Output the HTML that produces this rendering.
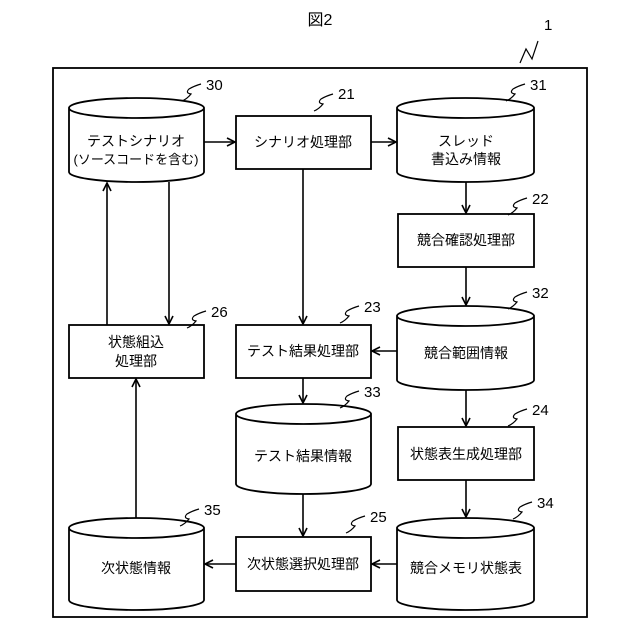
<!DOCTYPE html>
<html><head><meta charset="utf-8"><style>
html,body{margin:0;padding:0;background:#fff}
svg{display:block}
text{font-family:"Liberation Sans","Noto Sans CJK JP",sans-serif;fill:#000}
.t{font-size:14px;text-anchor:middle}
.n{font-size:15px}
</style></head><body>
<svg width="640" height="640" viewBox="0 0 640 640" xmlns="http://www.w3.org/2000/svg">
<defs>
<marker id="a" markerWidth="10" markerHeight="10" refX="9" refY="5" orient="auto" markerUnits="userSpaceOnUse">
<polyline points="1,1 9,5 1,9" fill="none" stroke="#000" stroke-width="1.6"/>
</marker>
<g id="sq"><path d="M0,0 q5,-2 9,-7 q-6,-1 -2,-5 q5,-3 12,-5" fill="none" stroke="#000" stroke-width="1.2"/></g>
</defs>
<g fill="none" stroke="#000" stroke-width="1.8">
<rect x="53" y="68" width="534" height="549"/>
<path d="M69,108 v64 a67.5,10 0 0 0 135,0 v-64 a67.5,10 0 0 0 -135,0 a67.5,10 0 0 0 135,0"/>
<path d="M397,108 v64 a68.5,10 0 0 0 137,0 v-64 a68.5,10 0 0 0 -137,0 a68.5,10 0 0 0 137,0"/>
<path d="M397,316 v64 a68.5,10 0 0 0 137,0 v-64 a68.5,10 0 0 0 -137,0 a68.5,10 0 0 0 137,0"/>
<path d="M236,414 v70 a67.5,10 0 0 0 135,0 v-70 a67.5,10 0 0 0 -135,0 a67.5,10 0 0 0 135,0"/>
<path d="M397,528 v72 a68.5,10 0 0 0 137,0 v-72 a68.5,10 0 0 0 -137,0 a68.5,10 0 0 0 137,0"/>
<path d="M69,528 v72 a67.5,10 0 0 0 135,0 v-72 a67.5,10 0 0 0 -135,0 a67.5,10 0 0 0 135,0"/>
<rect x="236" y="116" width="135" height="53"/>
<rect x="398" y="214" width="136" height="53"/>
<rect x="69" y="325" width="135" height="53"/>
<rect x="236" y="325" width="135" height="53"/>
<rect x="398" y="427" width="136" height="53"/>
<rect x="236" y="537" width="135" height="54"/>
</g>
<g stroke="#000" stroke-width="1.6" fill="none" marker-end="url(#a)">
<line x1="204" y1="142" x2="235" y2="142"/>
<line x1="371" y1="142" x2="396" y2="142"/>
<line x1="303" y1="169" x2="303" y2="324"/>
<line x1="466" y1="182" x2="466" y2="213"/>
<line x1="466" y1="267" x2="466" y2="305"/>
<line x1="397" y1="351" x2="372" y2="351"/>
<line x1="303" y1="378" x2="303" y2="403"/>
<line x1="303" y1="494" x2="303" y2="536"/>
<line x1="466" y1="390" x2="466" y2="426"/>
<line x1="466" y1="480" x2="466" y2="517"/>
<line x1="397" y1="564" x2="372" y2="564"/>
<line x1="236" y1="564" x2="205" y2="564"/>
<line x1="136" y1="518" x2="136" y2="379"/>
<line x1="107" y1="325" x2="107" y2="183"/>
<line x1="169" y1="182" x2="169" y2="324"/>
</g>
<use href="#sq" x="182" y="101"/>
<use href="#sq" x="314" y="111"/>
<use href="#sq" x="506" y="101"/>
<use href="#sq" x="508" y="215"/>
<use href="#sq" x="508" y="309"/>
<use href="#sq" x="340" y="323"/>
<use href="#sq" x="187" y="328"/>
<use href="#sq" x="340" y="408"/>
<use href="#sq" x="508" y="426"/>
<use href="#sq" x="513" y="519"/>
<use href="#sq" x="180" y="526"/>
<use href="#sq" x="346" y="533"/>
<path d="M520,63 l6,-14 l6,10 l6,-18" fill="none" stroke="#000" stroke-width="1.2"/>
<text x="320" y="25" class="t" style="font-size:16px">図2</text>
<text x="544" y="30" class="n">1</text>
<text x="206" y="90" class="n">30</text>
<text x="338" y="99" class="n">21</text>
<text x="530" y="90" class="n">31</text>
<text x="532" y="204" class="n">22</text>
<text x="532" y="298" class="n">32</text>
<text x="364" y="312" class="n">23</text>
<text x="211" y="317" class="n">26</text>
<text x="364" y="397" class="n">33</text>
<text x="532" y="415" class="n">24</text>
<text x="537" y="508" class="n">34</text>
<text x="204" y="515" class="n">35</text>
<text x="370" y="522" class="n">25</text>
<text x="136" y="146" class="t">テストシナリオ</text>
<text x="136" y="164" class="t" style="font-size:13px">(ソースコードを含む)</text>
<text x="303" y="147" class="t">シナリオ処理部</text>
<text x="466" y="146" class="t">スレッド</text>
<text x="466" y="164" class="t">書込み情報</text>
<text x="466" y="245" class="t">競合確認処理部</text>
<text x="466" y="358" class="t">競合範囲情報</text>
<text x="136" y="347" class="t">状態組込</text>
<text x="136" y="366" class="t">処理部</text>
<text x="303" y="356" class="t">テスト結果処理部</text>
<text x="303" y="461" class="t">テスト結果情報</text>
<text x="466" y="459" class="t">状態表生成処理部</text>
<text x="303" y="569" class="t">次状態選択処理部</text>
<text x="466" y="573" class="t">競合メモリ状態表</text>
<text x="136" y="573" class="t">次状態情報</text>
</svg>
</body></html>
